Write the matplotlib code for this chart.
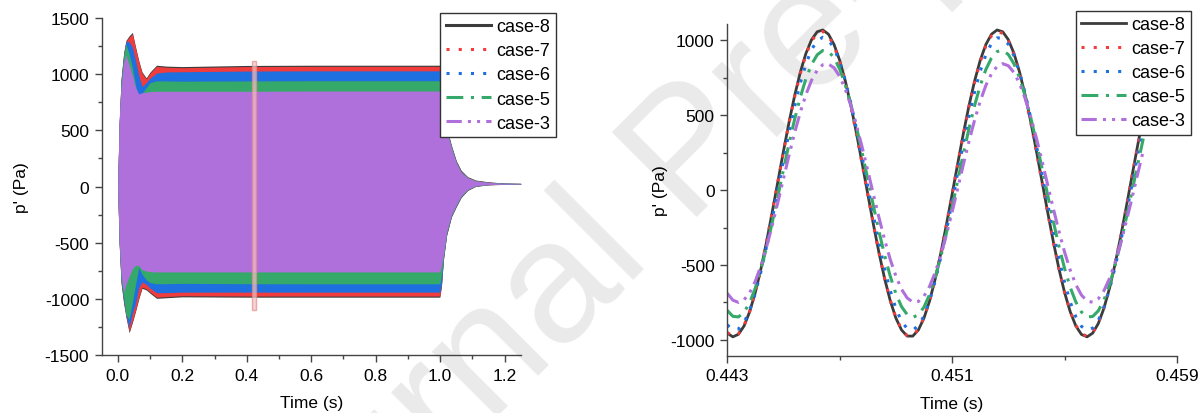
import numpy as np
import matplotlib
matplotlib.use('Agg')
import matplotlib.pyplot as plt
from matplotlib.ticker import MultipleLocator, AutoMinorLocator
from matplotlib.patches import Rectangle

plt.rcParams['font.family'] = ['Liberation Sans', 'DejaVu Sans']
plt.rcParams['axes.unicode_minus'] = False

cases = ['case-8', 'case-7', 'case-6', 'case-5', 'case-3']
colors = ['#3c3c3c', '#f03c3c', '#1e6fe0', '#35a96a', '#b070dc']
styles = ['-', (0, (1, 3)), (0, (1, 3)), (0, (5.5, 2.5, 1, 2.5)), (0, (5, 2, 1, 2, 1, 2))]

# left panel: envelope of p' over the whole run (upper / lower edge of each band)
t_env = [0.0, 0.004, 0.01, 0.018, 0.025, 0.035, 0.045, 0.055, 0.065, 0.075, 0.088, 0.1, 0.12, 0.15, 0.2,
         0.4, 0.6, 0.8, 0.999, 1.004, 1.01, 1.02, 1.035, 1.05, 1.065, 1.085, 1.11, 1.15, 1.2, 1.25]
upper = {
    'case-8': [90, 560, 960, 1190, 1300, 1342, 1372, 1242, 1120, 1020, 968, 1020, 1080, 1072, 1068,
               1078, 1080, 1080, 1080, 708, 608, 528, 366, 230, 145, 88, 58, 42, 31, 29],
    'case-7': [80, 550, 950, 1180, 1290, 1330, 1360, 1230, 1110, 1010, 958, 1010, 1070, 1062, 1058,
               1068, 1070, 1070, 1070, 700, 600, 520, 360, 225, 140, 85, 55, 40, 30, 28],
    'case-6': [70, 540, 940, 1170, 1290, 1290, 1240, 1120, 990, 890, 925, 965, 1010, 1020, 1022,
               1028, 1030, 1030, 1030, 690, 600, 515, 355, 220, 135, 82, 53, 38, 30, 28],
    'case-5': [60, 530, 930, 1160, 1270, 1180, 1060, 900, 770, 830, 880, 925, 940, 940, 938,
               940, 942, 942, 942, 680, 590, 505, 350, 215, 130, 80, 52, 37, 29, 27],
    'case-3': [50, 600, 880, 1100, 1170, 1080, 990, 880, 825, 835, 840, 845, 848, 848, 848,
               848, 850, 850, 850, 660, 575, 495, 340, 210, 125, 78, 50, 36, 28, 26],
}
lower = {
    'case-8': [-70, -510, -860, -1040, -1160, -1302, -1212, -1110, -1000, -906, -920, -950, -995, -990, -982,
               -985, -985, -985, -985, -888, -656, -436, -270, -180, -98, -35, 1, 15, 19, 21],
    'case-7': [-60, -500, -850, -1030, -1150, -1290, -1200, -1100, -990, -896, -910, -940, -985, -980, -972,
               -975, -975, -975, -975, -880, -650, -430, -265, -175, -95, -32, 3, 16, 20, 22],
    'case-6': [-55, -490, -840, -1020, -1140, -1255, -1130, -1040, -900, -850, -870, -905, -945, -945, -940,
               -940, -940, -940, -940, -870, -645, -425, -262, -172, -92, -30, 4, 17, 20, 22],
    'case-5': [-50, -480, -830, -980, -1140, -1180, -1030, -870, -720, -780, -830, -855, -865, -865, -862,
               -865, -866, -866, -866, -790, -630, -415, -255, -168, -88, -28, 5, 17, 21, 22],
    'case-3': [-40, -470, -780, -940, -870, -800, -730, -700, -705, -740, -752, -758, -760, -760, -760,
               -760, -760, -760, -760, -700, -610, -400, -248, -160, -82, -25, 7, 18, 21, 22],
}

# right panel: zoom on 0.443 - 0.459 s, one sample every 0.2 ms
t_zoom = [0.4430, 0.4432, 0.4434, 0.4436, 0.4438, 0.4440, 0.4442, 0.4444, 0.4446, 0.4448,
          0.4450, 0.4452, 0.4454, 0.4456, 0.4458, 0.4460, 0.4462, 0.4464, 0.4466, 0.4468,
          0.4470, 0.4472, 0.4474, 0.4476, 0.4478, 0.4480, 0.4482, 0.4484, 0.4486, 0.4488,
          0.4490, 0.4492, 0.4494, 0.4496, 0.4498, 0.4500, 0.4502, 0.4504, 0.4506, 0.4508,
          0.4510, 0.4512, 0.4514, 0.4516, 0.4518, 0.4520, 0.4522, 0.4524, 0.4526, 0.4528,
          0.4530, 0.4532, 0.4534, 0.4536, 0.4538, 0.4540, 0.4542, 0.4544, 0.4546, 0.4548,
          0.4550, 0.4552, 0.4554, 0.4556, 0.4558, 0.4560, 0.4562, 0.4564, 0.4566, 0.4568,
          0.4570, 0.4572, 0.4574, 0.4576, 0.4578]
p_zoom = {
    'case-8': [-955, -980, -963, -907, -812, -683, -525, -345, -148, 55,
               259, 454, 632, 787, 913, 1004, 1057, 1069, 1041, 972,
               867, 729, 563, 377, 178, -27, -229, -420, -592, -739,
               -855, -934, -975, -975, -934, -854, -739, -592, -419, -228,
               -27, 178, 378, 564, 729, 867, 972, 1041, 1069, 1057,
               1004, 913, 787, 632, 454, 259, 55, -149, -345, -526,
               -684, -812, -907, -964, -980, -955, -891, -789, -654, -491,
               -306, -108, 96, 299, 491],
    'case-7': [-951, -976, -960, -903, -809, -681, -524, -345, -150, 52,
               255, 448, 625, 779, 904, 995, 1047, 1059, 1031, 963,
               858, 721, 557, 372, 174, -30, -230, -420, -591, -737,
               -851, -931, -971, -971, -930, -851, -736, -590, -419, -230,
               -29, 174, 372, 557, 721, 859, 963, 1031, 1059, 1047,
               995, 904, 779, 625, 448, 254, 52, -151, -345, -525,
               -682, -810, -903, -960, -976, -951, -887, -786, -652, -490,
               -307, -110, 93, 294, 485],
    'case-6': [-900, -933, -928, -884, -803, -688, -544, -377, -193, 1,
               196, 385, 560, 715, 842, 938, 998, 1020, 1003, 947,
               856, 732, 580, 407, 219, 25, -170, -355, -525, -672,
               -791, -876, -925, -935, -906, -840, -738, -605, -446, -268,
               -77, 118, 310, 492, 656, 795, 904, 979, 1016, 1014,
               974, 897, 785, 644, 478, 296, 103, -93, -282, -459,
               -616, -747, -846, -910, -936, -922, -871, -782, -661, -512,
               -341, -154, 40, 234, 421],
    'case-5': [-803, -843, -847, -816, -751, -654, -529, -382, -217, -42,
               136, 311, 474, 620, 744, 839, 903, 932, 926, 884,
               809, 703, 571, 418, 249, 73, -105, -277, -436, -576,
               -692, -778, -831, -850, -833, -781, -696, -582, -443, -284,
               -113, 65, 242, 411, 565, 698, 805, 882, 925, 933,
               905, 843, 749, 627, 481, 318, 144, -34, -209, -375,
               -523, -649, -747, -814, -847, -844, -806, -734, -631, -501,
               -350, -183, -7, 171, 344],
    'case-3': [-689, -735, -750, -733, -685, -608, -505, -379, -237, -83,
               76, 233, 384, 520, 638, 733, 800, 837, 842, 816,
               759, 674, 563, 432, 286, 130, -29, -185, -332, -464,
               -575, -662, -720, -748, -744, -708, -642, -549, -432, -296,
               -146, 12, 171, 325, 468, 594, 699, 777, 826, 844,
               830, 785, 711, 610, 487, 346, 193, 34, -124, -275,
               -414, -534, -631, -701, -741, -749, -726, -672, -589, -481,
               -352, -207, -52, 107, 264],
}

fig = plt.figure(figsize=(12.04, 4.14), dpi=100)
ax1 = fig.add_axes([0.0845, 0.140, 0.348, 0.814])
ax2 = fig.add_axes([0.604, 0.138, 0.3736, 0.802])

# watermark behind everything
fig.text(0.575, 0.62, 'Journal Pre-proof', rotation=45, fontsize=125, color='#eaeaea',
         ha='center', va='center', zorder=-5)

for ax in (ax1, ax2):
    ax.patch.set_alpha(0)

# left panel bands
handles = []
for c, col, ls in zip(cases, colors, styles):
    ax1.fill_between(t_env, lower[c], upper[c], color=col, lw=0)
    h, = ax1.plot([], [], color=col, lw=2.2, linestyle=ls, label=c)
    handles.append(h)
ax1.add_patch(Rectangle((0.416, -1100), 0.014, 2220, facecolor='#f3c4c4', edgecolor='#e58a8a',
                        lw=1, alpha=0.7))
ax1.set_xlim(-0.05, 1.25)
ax1.set_ylim(-1500, 1500)
ax1.xaxis.set_major_locator(MultipleLocator(0.2))
ax1.xaxis.set_minor_locator(AutoMinorLocator(2))
ax1.yaxis.set_major_locator(MultipleLocator(500))
ax1.yaxis.set_minor_locator(AutoMinorLocator(2))
ax1.xaxis.set_major_formatter(plt.FuncFormatter(lambda v, p: f'{v:.1f}'))

# right panel curves
for c, col, ls in zip(cases, colors, styles):
    ax2.plot(t_zoom, p_zoom[c], color=col, lw=2.2 if c != 'case-8' else 2.0, linestyle=ls, label=c)
ax2.set_xlim(0.443, 0.459)
ax2.set_ylim(-1107, 1110)
ax2.set_xticks([0.443, 0.451, 0.459])
ax2.set_xticklabels(['0.443', '0.451', '0.459'])
ax2.xaxis.set_minor_locator(AutoMinorLocator(2))
ax2.yaxis.set_major_locator(MultipleLocator(500))
ax2.yaxis.set_minor_locator(AutoMinorLocator(2))

for ax in (ax1, ax2):
    for s in ('top', 'right'):
        ax.spines[s].set_visible(False)
    for s in ('left', 'bottom'):
        ax.spines[s].set_color('#444444')
        ax.spines[s].set_linewidth(1.0)
    ax.tick_params(which='major', direction='out', length=5, width=1, color='#444444',
                   labelsize=12.5, pad=4)
    ax.tick_params(which='minor', direction='out', length=3, width=1, color='#444444')
    ax.set_xlabel('Time (s)', fontsize=12.5, labelpad=9)
ax1.set_ylabel("p' (Pa)", fontsize=12.5, labelpad=11)
ax2.set_ylabel("p' (Pa)", fontsize=12.5, labelpad=2)

leg_kw = dict(loc='upper right', borderaxespad=0, fontsize=13, handlelength=2.5,
              handletextpad=0.3, labelspacing=0.39, borderpad=0.3, fancybox=False,
              framealpha=1, edgecolor='#333333')
l1 = ax1.legend(handles=handles, bbox_to_anchor=(1.083, 1.015), **leg_kw)
l2 = ax2.legend(bbox_to_anchor=(1.031, 1.040), **leg_kw)
for lg in (l1, l2):
    lg.get_frame().set_linewidth(1.0)

fig.savefig('out.png', dpi=100)
